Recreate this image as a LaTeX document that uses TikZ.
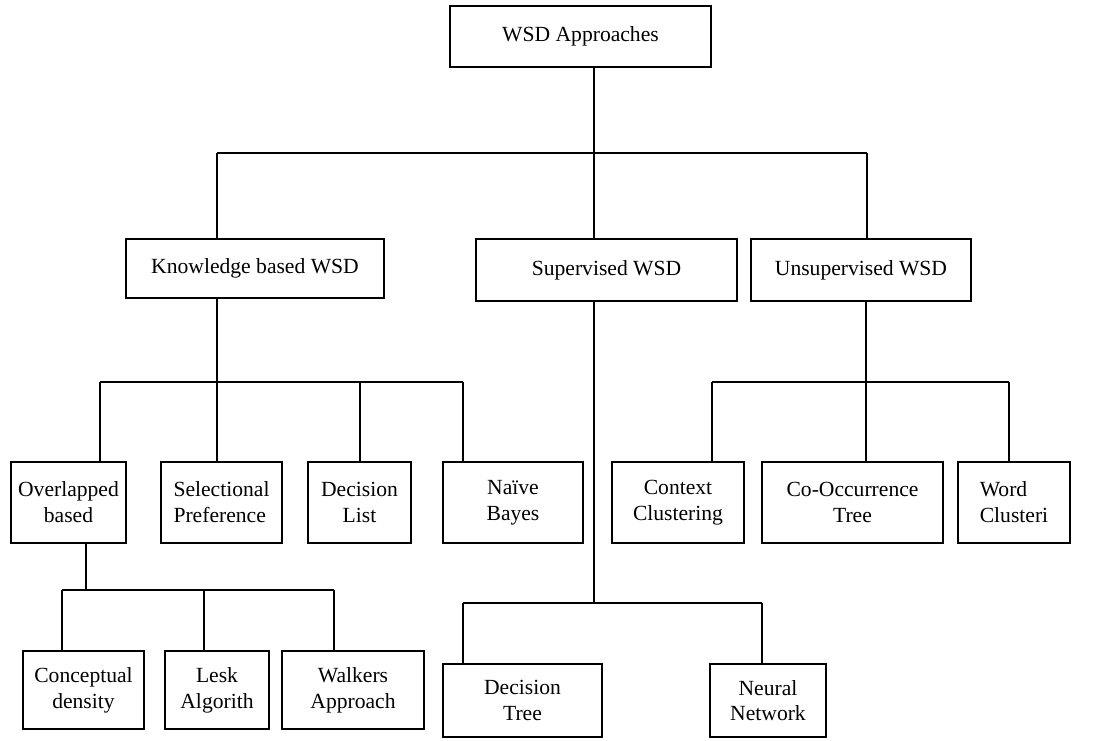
\documentclass[tikz,border=0pt]{standalone}
\usepackage{fontspec}
\setmainfont{Liberation Serif}

\begin{document}
\begin{tikzpicture}[x=0.5pt,y=-0.5pt,
  box/.style={draw,line width=1pt,inner sep=0pt,align=center,font=\fontsize{10.8}{12.9}\selectfont},
  link/.style={line width=0.8pt}]
\useasboundingbox (0,0) rectangle (1103,740);
% boxes
\node[box,minimum width=130.5pt,minimum height=30.5pt] (root) at (580.5,36.5) {WSD Approaches};
\node[box,minimum width=129pt,minimum height=29.5pt] (kb) at (255,268.5) {Knowledge based WSD};
\node[box,minimum width=130.5pt,minimum height=31pt] (sup) at (606.5,270) {Supervised WSD};
\node[box,minimum width=110pt,minimum height=31pt] (uns) at (861,270) {Unsupervised WSD};
\node[box,minimum width=57.5pt,minimum height=40.5pt] (ovl) at (68.5,502.5) {Overlapped\\based};
\node[box,minimum width=60.5pt,minimum height=40.5pt,align=left] (sel) at (221.5,502.5) {Selectional\\Preference};
\node[box,minimum width=51.5pt,minimum height=40.5pt] (dl) at (359.5,502.5) {Decision\\List};
\node[box,minimum width=70pt,minimum height=40.5pt] (nb) at (513,502.5) {Naïve\\Bayes};
\node[box,minimum width=66pt,minimum height=40.5pt] (cc) at (678,502.5) {Context\\Clustering};
\node[box,minimum width=90.5pt,minimum height=40.5pt] (cot) at (852.5,502.5) {Co-Occurrence\\Tree};
\node[box,minimum width=56pt,minimum height=40.5pt,align=left] (wc) at (1014,502.5) {Word\\Clusteri};
\node[box,minimum width=60.5pt,minimum height=39pt] (cd) at (83.5,690) {Conceptual\\density};
\node[box,minimum width=52pt,minimum height=39pt] (la) at (217,690) {Lesk\\Algorith};
\node[box,minimum width=71pt,minimum height=39pt] (wa) at (353,690) {Walkers\\Approach};
\node[box,minimum width=79.5pt,minimum height=36.5pt] (dt) at (522.5,700.5) {Decision\\Tree};
\node[box,minimum width=58pt,minimum height=36.5pt] (nn) at (768,700.5) {Neural\\Network};
% junctions
\coordinate (t1) at (217,153);
\coordinate (t2) at (594,153);
\coordinate (t3) at (867,153);
\coordinate (k1) at (100,382);
\coordinate (k2) at (217,382);
\coordinate (k3) at (360,382);
\coordinate (k4) at (463,382);
\coordinate (o0) at (86,590);
\coordinate (o1) at (62,590);
\coordinate (o2) at (204,590);
\coordinate (o3) at (334,590);
\coordinate (s1) at (463,603);
\coordinate (s2) at (594,603);
\coordinate (s3) at (762,603);
\coordinate (u1) at (712,382);
\coordinate (u2) at (866,382);
\coordinate (u3) at (1009,382);
% connectors
\draw[link] (t2 |- root.south) -- (t2);
\draw[link] (t1) -- (t3);
\foreach \c/\n in {t1/kb,t2/sup,t3/uns}
  \draw[link] (\c) -- (\c |- \n.north);
\draw[link] (k2 |- kb.south) -- (k2);
\draw[link] (k1) -- (k4);
\foreach \c/\n in {k1/ovl,k2/sel,k3/dl,k4/nb}
  \draw[link] (\c) -- (\c |- \n.north);
\draw[link] (o0 |- ovl.south) -- (o0);
\draw[link] (o1) -- (o3);
\foreach \c/\n in {o1/cd,o2/la,o3/wa}
  \draw[link] (\c) -- (\c |- \n.north);
\draw[link] (s2 |- sup.south) -- (s2);
\draw[link] (s1) -- (s3);
\foreach \c/\n in {s1/dt,s3/nn}
  \draw[link] (\c) -- (\c |- \n.north);
\draw[link] (u2 |- uns.south) -- (u2);
\draw[link] (u1) -- (u3);
\foreach \c/\n in {u1/cc,u2/cot,u3/wc}
  \draw[link] (\c) -- (\c |- \n.north);
\end{tikzpicture}
\end{document}
